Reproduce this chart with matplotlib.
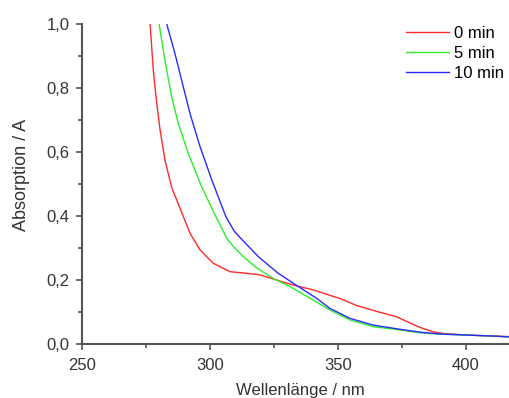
import matplotlib
matplotlib.use("Agg")
import matplotlib.pyplot as plt
from matplotlib.ticker import FuncFormatter, MultipleLocator

plt.rcParams['font.family'] = ['Liberation Sans', 'DejaVu Sans']

labels = ["0 min", "5 min", "10 min"]
colors = ["#ff2a2a", "#2aee2a", "#2a2aff"]

wl_0 = [276.6, 277.85, 279.2, 280.5, 282.4, 285.0, 288.3, 292.2, 296.1, 301.3, 307.8,
        314.3, 319.5, 326.0, 332.5, 340.4, 351.5, 357.3, 365.1, 372.9, 377.5, 382.0,
        387.2, 391.1, 400.0, 410.0, 417.2]
abs_0 = [1.00, 0.856, 0.752, 0.669, 0.575, 0.49, 0.424, 0.346, 0.294, 0.252, 0.226,
         0.221, 0.216, 0.200, 0.184, 0.169, 0.140, 0.120, 0.102, 0.085, 0.068, 0.052,
         0.038, 0.033, 0.028, 0.025, 0.023]

wl_5 = [280.1, 282.4, 285.0, 287.6, 291.5, 296.8, 302.3, 306.8, 309.4, 313.0, 318.2, 324.7,
        331.3, 339.1, 346.9, 354.7, 363.8, 374.2, 382.0, 390.0, 400.0, 410.0, 417.2]
abs_5 = [1.00, 0.887, 0.773, 0.69, 0.596, 0.49, 0.398, 0.327, 0.302, 0.273, 0.238, 0.205,
         0.179, 0.143, 0.106, 0.075, 0.054, 0.044, 0.035, 0.031, 0.028, 0.025, 0.022]

wl_10 = [283.1, 286.3, 288.9, 292.2, 296.1, 300.7, 306.2, 309.5, 313.0, 319.0, 326.5, 332.5,
         341.6, 346.9, 354.7, 363.8, 374.2, 382.0, 390.0, 400.0, 410.0, 417.2]
abs_10 = [1.00, 0.908, 0.825, 0.72, 0.617, 0.5125, 0.398, 0.352, 0.322, 0.272, 0.222, 0.19,
          0.143, 0.111, 0.080, 0.059, 0.046, 0.037, 0.031, 0.028, 0.025, 0.022]

fig = plt.figure(figsize=(5.10, 3.98), dpi=100)
ax = fig.add_axes([82/510, 1-344/398, 1-82/510, (344-24)/398])

series = [(wl_0, abs_0), (wl_5, abs_5), (wl_10, abs_10)]
for (x, y), c, lab in zip(series, colors, labels):
    ax.plot(x, y, color=c, lw=1.0, label=lab)

ax.set_xlim(250, 417.2)
ax.set_ylim(0, 1.0)
ax.spines['top'].set_visible(False)
ax.spines['right'].set_visible(False)
for s in ['left', 'bottom']:
    ax.spines[s].set_color('#555555')
    ax.spines[s].set_linewidth(1.5)
ax.xaxis.set_major_locator(MultipleLocator(50))
ax.xaxis.set_minor_locator(MultipleLocator(25))
ax.yaxis.set_major_locator(MultipleLocator(0.2))
ax.yaxis.set_minor_locator(MultipleLocator(0.1))
ax.yaxis.set_major_formatter(FuncFormatter(lambda v, p: f"{v:.1f}".replace('.', ',')))
ax.tick_params(which='major', direction='out', length=4, width=1.2, color='#555555',
               labelsize=12, labelcolor='#333333')
ax.tick_params(axis='x', which='major', pad=6)
ax.tick_params(axis='y', which='major', pad=5)
ax.tick_params(which='minor', direction='out', length=3, width=1.2, color='#555555')
ax.set_xlabel("Wellenlänge / nm", fontsize=12, color='#333333')
ax.set_ylabel("Absorption / A", fontsize=13, color='#333333')
ax.xaxis.set_label_coords((300-82)/428, -(382.5-344)/320)
ax.yaxis.set_label_coords(-(82-30)/428, 0.528)

ax.legend(loc='upper left', bbox_to_anchor=(405.7/510, 1-26/398), bbox_transform=fig.transFigure,
          frameon=False, borderpad=0, borderaxespad=0, handlelength=2.6, handletextpad=0.3,
          labelspacing=0.3, fontsize=12)

fig.savefig("out.png", dpi=100)
